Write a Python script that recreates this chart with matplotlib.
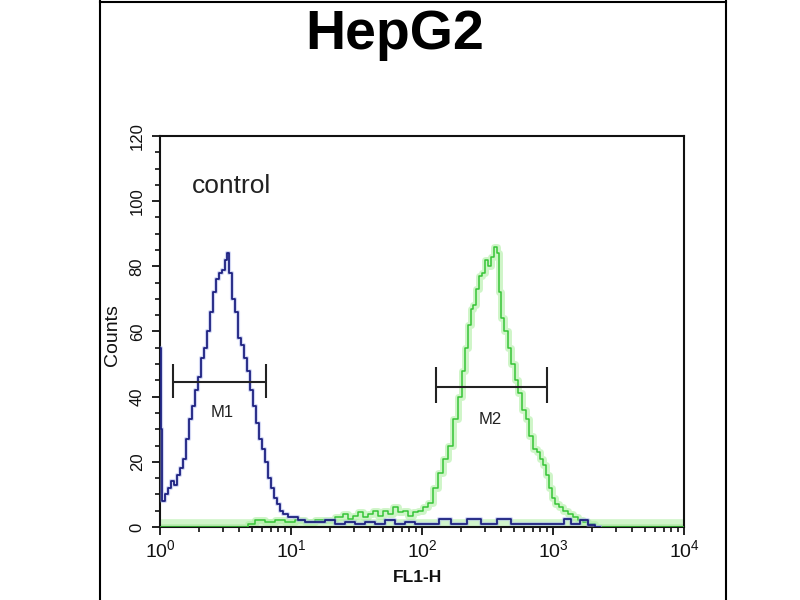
import matplotlib
matplotlib.use("Agg")
import matplotlib.pyplot as plt
from matplotlib.lines import Line2D
from matplotlib.ticker import MultipleLocator, NullFormatter

plt.rcParams['font.family'] = ['Liberation Sans', 'DejaVu Sans']

# control histogram (blue)
blue_fl1 = [1.00, 1.02, 1.054, 1.111, 1.171, 1.235, 1.302, 1.372, 1.447, 1.525,
            1.607, 1.694, 1.786, 1.883, 1.985, 2.092, 2.206, 2.325, 2.451, 2.584,
            2.724, 2.871, 3.027, 3.191, 3.305, 3.423, 3.608, 3.803, 4.009, 4.227,
            4.456, 4.697, 4.951, 5.219, 5.502, 5.800, 6.114, 6.445, 6.794, 7.161,
            7.549, 7.958, 8.389, 9.00, 9.83, 10.73, 11.72, 13.96, 16.6, 19.9,
            23.7, 28.2, 33.6, 40.1, 47.8, 57.0, 68.0, 81.0, 96.6, 115,
            155, 179, 263, 303, 445, 513, 1130, 1279, 1473, 1755,
            1916, 2286]
blue_counts = [55, 30, 8, 10, 12, 14, 13, 16, 18, 21,
               27, 33, 37, 42, 46, 52, 55, 60, 66, 72,
               76, 78, 79, 82, 84, 78, 70, 66, 58, 56,
               52, 48, 42, 37, 32, 27, 24, 20, 15, 12,
               9, 7, 5, 4, 3, 3, 2, 1.5, 1.5, 2,
               1, 1.5, 1, 1.5, 1, 2, 1, 1.5, 1, 1,
               2.5, 1, 2.5, 1, 2.5, 1, 1, 2.5, 1, 2,
               0.5, 0]

# HepG2 stained histogram (green)
green_fl1 = [1.0, 4.5, 4.86, 5.80, 6.91, 8.24, 9.83, 11.72, 13.96, 16.64,
             19.85, 23.66, 25.84, 28.21, 30.81, 33.64, 36.73, 40.11, 43.79, 47.82,
             52.21, 57.01, 62.25, 67.97, 74.21, 81.04, 88.48, 96.6, 105.5, 115.2,
             125.8, 137.3, 149.9, 163.7, 178.7, 195.1, 205.6, 216.7, 228.4, 240.7,
             253.7, 267.4, 281.9, 297.1, 313.1, 330.0, 347.8, 366.6, 379.9, 393.6,
             414.9, 437.3, 469.3, 494.6, 531.0, 559.6, 600.6, 633.0, 679.5, 729.4,
             768.7, 810.2, 853.9, 900.0, 948.5, 999.7, 1073, 1152, 1236, 1349,
             1473, 1608, 1755, 1916, 2286, 10000]
green_counts = [0, 0, 1, 2, 1.5, 2, 1.5, 2, 1.5, 2,
                2, 3, 4, 2.5, 3.5, 4.5, 3, 4, 5, 3.5,
                5, 4, 6, 4.5, 5, 3.5, 4.5, 5, 6, 7.5,
                12, 16.5, 21, 25, 33, 40, 48, 55, 62, 67,
                68, 73, 77, 78, 82, 80, 83, 86, 84, 72,
                64, 60, 55, 50, 45, 41, 36, 33, 28, 24,
                23, 21, 19, 16, 12, 9, 7, 6, 5, 4,
                3, 2, 1.5, 1, 0, 0]

# gate markers
marker_names = ['M1', 'M2']
marker_lo = [1.26, 128]
marker_hi = [6.44, 905]
marker_y = [44.5, 43]
marker_cap_lo = [39.5, 38]
marker_cap_hi = [50, 49]
marker_label_x = [2.97, 331]
marker_label_y = [35, 33]

fig = plt.figure(figsize=(8, 6), dpi=100)
ax = fig.add_axes([0.2, 0.1217, 0.655, 0.6517])

# green baseline glow band and curve
ax.axhline(0, color='#bdf0b4', lw=12, alpha=0.7, zorder=1)
ax.plot(green_fl1, green_counts, color='#a8ee9c', lw=5, alpha=0.55,
        drawstyle='steps-mid', zorder=2)
ax.plot(green_fl1, green_counts, color='#36c436', lw=1.1,
        drawstyle='steps-mid', zorder=3)

# blue control curve
ax.plot(blue_fl1, blue_counts, color='#9aa6e6', lw=3, alpha=0.45,
        drawstyle='steps-mid', zorder=4)
ax.plot(blue_fl1, blue_counts, color='#1c2080', lw=1.3,
        drawstyle='steps-mid', zorder=5)

for i in range(len(marker_names)):
    ax.hlines(marker_y[i], marker_lo[i], marker_hi[i], color='#222222', lw=1.5, zorder=6)
    ax.vlines([marker_lo[i], marker_hi[i]], marker_cap_lo[i], marker_cap_hi[i],
              color='#222222', lw=1.5, zorder=6)
    ax.text(marker_label_x[i], marker_label_y[i], marker_names[i], ha='center',
            va='center', fontsize=12, color='#222222', zorder=6)

ax.text(1.75, 104.5, 'control', ha='left', va='center', fontsize=19, color='#222222')

ax.set_xscale('log')
ax.set_xlim(1, 1e4)
ax.set_ylim(0, 120)
ax.yaxis.set_major_locator(MultipleLocator(20))
ax.yaxis.set_minor_locator(MultipleLocator(5))
ax.xaxis.set_minor_formatter(NullFormatter())

for s in ax.spines.values():
    s.set_linewidth(1.5)
    s.set_color('#111111')

ax.tick_params(axis='both', which='major', direction='out', length=6, width=1.3,
               colors='#111111')
ax.tick_params(axis='both', which='minor', direction='out', length=3.5, width=1.2,
               colors='#111111')
ax.tick_params(axis='x', labelsize=14, pad=3)
ax.tick_params(axis='y', labelsize=12, labelrotation=90, pad=5)
for lab in ax.get_yticklabels():
    lab.set_va('center')

fig.text(113 / 800, 1 - 335 / 600, 'Counts', rotation=90, ha='center', va='center',
         fontsize=14, color='#111111')
fig.text(417 / 800, 1 - 577 / 600, 'FL1-H', ha='center', va='center',
         fontsize=12.5, fontweight='bold', color='#111111')
fig.text(395 / 800, 1 - 35 / 600, 'HepG2', ha='center', va='center',
         fontsize=40, fontweight='bold', color='black')

# outer frame
fig.add_artist(Line2D([100 / 800, 100 / 800], [0, 1], color='black', lw=1.5))
fig.add_artist(Line2D([726 / 800, 726 / 800], [0, 1], color='black', lw=1.5))
fig.add_artist(Line2D([100 / 800, 726 / 800], [1 - 2 / 600, 1 - 2 / 600],
                      color='black', lw=1.5))

fig.savefig('out.png', dpi=100)
